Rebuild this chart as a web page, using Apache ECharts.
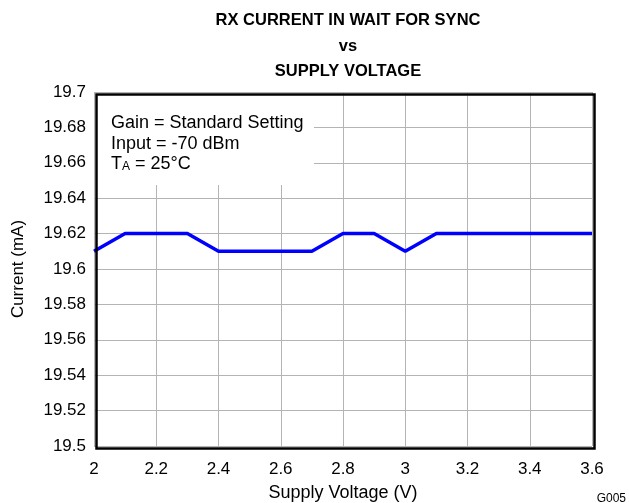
<!DOCTYPE html>
<html><head><meta charset="utf-8">
<script src="https://cdn.jsdelivr.net/npm/echarts@6/dist/echarts.min.js"></script>
<style>html,body{margin:0;padding:0;background:#fff}#c{width:629px;height:503px}</style>
</head><body><div id="c"></div>
<script>
var voltage = [2.0, 2.1, 2.2, 2.3, 2.4, 2.5, 2.6, 2.7, 2.8, 2.9, 3.0, 3.1, 3.2, 3.3, 3.4, 3.5, 3.6];
var current = [19.61, 19.62, 19.62, 19.62, 19.61, 19.61, 19.61, 19.61, 19.62, 19.62, 19.61, 19.62, 19.62, 19.62, 19.62, 19.62, 19.62];
var titleLines = ['RX CURRENT IN WAIT FOR SYNC', 'vs', 'SUPPLY VOLTAGE'];
var noteLines = ['Gain = Standard Setting', 'Input = -70 dBm'];

var font = 'Liberation Sans, Arial, sans-serif';
var chart = echarts.init(document.getElementById('c'));
var data = voltage.map(function (v, i) { return [v, current[i]]; });
chart.setOption({
  animation: false,
  backgroundColor: '#fff',
  title: {
    text: titleLines.join('\n'),
    left: 343, top: 3, textAlign: 'center',
    textStyle: { fontFamily: font, fontSize: 16.5, fontWeight: 'bold', color: '#000', lineHeight: 25.5 }
  },
  grid: { left: 94, right: 37, top: 92, bottom: 57, containLabel: false, outerBoundsMode: 'none' },
  xAxis: {
    type: 'value', min: 2, max: 3.6, interval: 0.2,
    name: 'Supply Voltage (V)', nameLocation: 'middle', nameGap: 38,
    nameTextStyle: { fontFamily: font, fontSize: 18, color: '#000' },
    axisLine: { show: false },
    axisTick: { show: false },
    axisLabel: { fontFamily: font, fontSize: 17, color: '#000', margin: 15,
      formatter: function (v) { return String(Math.round(v * 10) / 10); } },
    splitLine: { show: true, lineStyle: { color: '#b4b4b4', width: 1 } }
  },
  yAxis: {
    type: 'value', min: 19.5, max: 19.7, interval: 0.02,
    name: 'Current (mA)', nameLocation: 'middle', nameGap: 67,
    nameTextStyle: { fontFamily: font, fontSize: 17, color: '#000' },
    axisLine: { show: false },
    axisTick: { show: false },
    axisLabel: { fontFamily: font, fontSize: 17, color: '#000', margin: 8, verticalAlign: 'middle',
      formatter: function (v) { return String(Math.round(v * 100) / 100); } },
    splitLine: { show: true, lineStyle: { color: '#b4b4b4', width: 1 } }
  },
  series: [{
    type: 'line', data: data, symbol: 'none',
    lineStyle: { color: '#0000ff', width: 3.5 }, z: 5
  }],
  graphic: [
    { type: 'rect', left: 95, top: 93, shape: { width: 219, height: 92 }, style: { fill: '#fff' }, z: 10 },
    { type: 'text', left: 111, top: 113, z: 11,
      style: { text: noteLines[0] + '\n' + noteLines[1], font: '18px ' + font, fill: '#000', lineHeight: 21 } },
    { type: 'text', left: 111, top: 154, z: 11,
      style: { text: '{t|T}{s|A}{t| = 25°C}', fill: '#000',
        rich: { t: { fontFamily: font, fontSize: 18, fill: '#000', lineHeight: 21, verticalAlign: 'bottom' },
                s: { fontFamily: font, fontSize: 12, fill: '#000', padding: [7, 0, 0, 0], lineHeight: 21, verticalAlign: 'bottom' } } } },
    { type: 'rect', left: 94, top: 92, shape: { width: 498, height: 354 },
      style: { fill: 'none', stroke: '#000', lineWidth: 2.5 }, z: 12 },
    { type: 'text', right: 3, top: 493, z: 11,
      style: { text: 'G005', font: '12px ' + font, fill: '#000' } }
  ]
});
</script></body></html>
